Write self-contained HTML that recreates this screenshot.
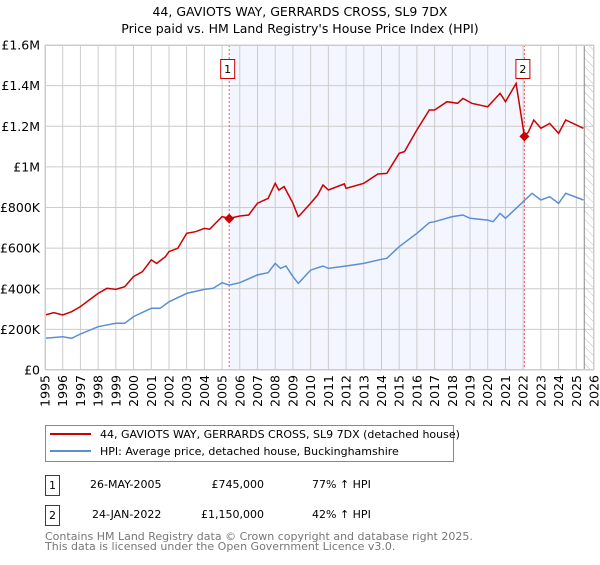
<!DOCTYPE html>
<html><head><meta charset="utf-8"><style>
body{margin:0;background:#fff;font-family:"Liberation Sans","DejaVu Sans",sans-serif;}
svg text{font-family:"DejaVu Sans","Liberation Sans",sans-serif;}
</style></head><body>
<svg id="c" width="600" height="560" xmlns="http://www.w3.org/2000/svg">
<defs><pattern id="hatch" width="6" height="6" patternUnits="userSpaceOnUse" patternTransform="rotate(-45)"><line x1="0" y1="0" x2="0" y2="6" stroke="#bbb" stroke-width="1"/></pattern></defs>
<text x="300" y="16" text-anchor="middle" font-size="12.5">44, GAVIOTS WAY, GERRARDS CROSS, SL9 7DX</text>
<text x="300" y="33" text-anchor="middle" font-size="12.5">Price paid vs. HM Land Registry's House Price Index (HPI)</text>
<g id="plot"></g>
<g>
<rect x="45.5" y="425.5" width="408" height="36" fill="#fff" stroke="#888"/>
<line x1="50" y1="434" x2="91" y2="434" stroke="#cc0000" stroke-width="2"/>
<text x="100" y="438" font-size="11">44, GAVIOTS WAY, GERRARDS CROSS, SL9 7DX (detached house)</text>
<line x1="50" y1="451" x2="91" y2="451" stroke="#5b8fd4" stroke-width="2"/>
<text x="100" y="455" font-size="11">HPI: Average price, detached house, Buckinghamshire</text>
</g>
<g font-size="11">
<rect x="45.5" y="475.5" width="14" height="20" fill="#fff" stroke="#cc0000"/><text x="52.5" y="489" text-anchor="middle">1</text>
<text x="90" y="488">26-MAY-2005</text><text x="264" y="488" text-anchor="end">£745,000</text><text x="312" y="488">77% ↑ HPI</text>
<rect x="45.5" y="505.5" width="14" height="20" fill="#fff" stroke="#cc0000"/><text x="52.5" y="519" text-anchor="middle">2</text>
<text x="92" y="518">24-JAN-2022</text><text x="264" y="518" text-anchor="end">£1,150,000</text><text x="312" y="518">42% ↑ HPI</text>
</g>
<g font-size="11" fill="#777">
<text x="45" y="540">Contains HM Land Registry data © Crown copyright and database right 2025.</text>
<text x="45" y="550">This data is licensed under the Open Government Licence v3.0.</text>
</g>
</svg>
<script>
const yTicks=[0,200000,400000,600000,800000,1000000,1200000,1400000,1600000];
const yTickLabels=["£0","£200K","£400K","£600K","£800K","£1M","£1.2M","£1.4M","£1.6M"];
const years=[1995,1996,1997,1998,1999,2000,2001,2002,2003,2004,2005,2006,2007,2008,2009,2010,2011,2012,2013,2014,2015,2016,2017,2018,2019,2020,2021,2022,2023,2024,2025,2026];
const hpiT=[1995,1996,1996.5,1997,1998,1999,1999.5,2000,2001,2001.5,2002,2003,2004,2004.5,2005,2005.4,2006,2007,2007.6,2008,2008.3,2008.6,2009,2009.3,2009.4,2010,2010.7,2011,2012,2013,2014,2014.3,2015,2016,2016.7,2017,2018,2018.6,2019,2020,2020.3,2020.7,2021,2021.8,2022.5,2023,2023.5,2024,2024.4,2025.4];
const hpiV=[156,164,156,177,213,230,230,263,304,304,336,377,397,402,430,418,430,468,479,525,500,512,460,427,435,492,512,500,512,525,545,550,607,673,725,730,755,763,747,738,730,771,747,812,870,837,853,820,870,837];
const propT=[1995,1995.5,1996,1996.5,1997,1998,1998.5,1999,1999.5,2000,2000.5,2001,2001.3,2001.8,2002,2002.5,2003,2003.5,2004,2004.3,2005,2005.4,2006,2006.5,2007,2007.6,2008,2008.2,2008.5,2009,2009.3,2009.4,2010,2010.4,2010.7,2011,2011.9,2012,2013,2013.8,2014.3,2015,2015.3,2016,2016.7,2017,2017.7,2018.3,2018.6,2019.1,2020,2020.7,2021,2021.6,2022.07,2022.3,2022.6,2023,2023.5,2024,2024.4,2025.4];
const propV=[271,282,271,287,312,377,402,397,410,460,484,542,525,558,583,599,673,681,697,693,755,747,758,763,821,845,919,886,903,821,755,763,821,862,911,886,916,894,919,965,968,1067,1075,1182,1280,1280,1321,1313,1337,1313,1296,1362,1321,1411,1150,1173,1231,1190,1214,1165,1231,1190];
const saleT=[2005.4,2022.07];
const saleV=[745,1150];
const saleLabels=["1","2"];
const X0=45,X1=594,Y0=370,Y1=45,T0=1995,T1=2026,VMAX=1600000;
const xs=t=>X0+(t-T0)/(T1-T0)*(X1-X0);
const ys=v=>Y0-v/VMAX*(Y0-Y1);
const NS="http://www.w3.org/2000/svg";
const g=document.getElementById('plot');
function mk(tag,attrs,parent){const e=document.createElementNS(NS,tag);for(const k in attrs)e.setAttribute(k,attrs[k]);(parent||g).appendChild(e);return e;}
let e=mk('rect',{x:xs(saleT[0]),y:Y1,width:xs(saleT[1])-xs(saleT[0]),height:Y0-Y1,fill:'#f3f6fe'});


const hs=2025.45;
e=mk('rect',{x:xs(hs),y:Y1,width:X1-xs(hs),height:Y0-Y1,fill:'url(#hatch)'});


years.forEach(y=>{const x=xs(y);
 e=mk('line',{x1:x,x2:x,y1:Y1,y2:Y0,stroke:'#ccc','stroke-width':1});
 
 
 e=mk('text',{x:0,y:0,'font-size':12.5,'text-anchor':'end',transform:`translate(${x+4.5},${Y0+5}) rotate(-90)`});
 e.textContent=y;
 
 
});
yTicks.forEach((v,i)=>{const y=ys(v);
 e=mk('line',{x1:X0,x2:X1,y1:y,y2:y,stroke:'#ccc','stroke-width':1});
 
 
 e=mk('text',{x:X0-5,y:y+4.5,'font-size':12.5,'text-anchor':'end'});
 e.textContent=yTickLabels[i];
 
 
});
e=mk('line',{x1:xs(hs),x2:xs(hs),y1:Y1,y2:Y0,stroke:'#888','stroke-width':1});


saleT.forEach((t,i)=>{const x=xs(t);
 e=mk('line',{x1:x,x2:x,y1:Y1,y2:Y0,stroke:'#e06060','stroke-width':1,'stroke-dasharray':'2,2'});
 
 
});
function path(T,V){return T.map((t,i)=>(i?'L':'M')+xs(t).toFixed(1)+','+ys(V[i]*1000).toFixed(1)).join('');}
e=mk('path',{d:path(hpiT,hpiV),fill:'none',stroke:'#5b8fd4','stroke-width':1.5});


e=mk('path',{d:path(propT,propV),fill:'none',stroke:'#cc0000','stroke-width':1.5});


saleT.forEach((t,i)=>{const x=xs(t),y=ys(saleV[i]*1000);
 e=mk('path',{d:`M${x},${y-5}L${x+5},${y}L${x},${y+5}L${x-5},${y}Z`,fill:'#cc0000'});
 
 
 e=mk('rect',{x:x-8.5,y:59.5,width:14,height:19,fill:'#fff',stroke:'#cc0000'});
 
 
 e=mk('text',{x:x-1.5,y:73,'font-size':11,'text-anchor':'middle'});
 e.textContent=saleLabels[i];
 
 
});
e=mk('rect',{x:X0+0.5,y:Y1+0.5,width:X1-X0-1,height:Y0-Y1-1,fill:'none',stroke:'#ccc'});


</script>
</body></html>
